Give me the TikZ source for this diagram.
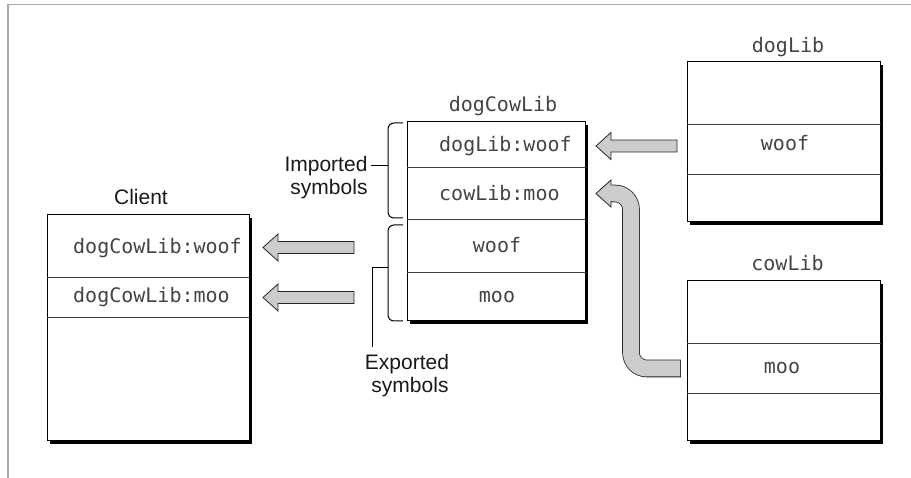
\documentclass[tikz,border=0pt]{standalone}
\usepackage{fontspec}
\setmainfont{Liberation Sans}
\newfontfamily\monof{DejaVu Sans Mono}
\usetikzlibrary{calc,shadows}
\definecolor{framegray}{HTML}{AAAAAA}
\definecolor{arrowfill}{HTML}{CCCCCC}
\definecolor{arrowline}{HTML}{262626}
\definecolor{txtgray}{HTML}{444444}
\newcommand\blockarrow[2]{\draw[fatarrow] (#1) -- ++(15,-13.5) -- ++(0,7.5) -- ($(#2)+(0,-6)$) -- ++(0,12) -- ($(#1)+(15,6)$) -- ++(0,7.5) -- cycle;}
\begin{document}
\begin{tikzpicture}[x=1pt,y=-1pt,
  libbox/.style={draw=black, line width=1pt, fill=white, inner sep=0pt,
    drop shadow={shadow xshift=3pt, shadow yshift=-3pt, opacity=1, fill=black}},
  rowline/.style={draw=black!75, line width=0.8pt},
  monotext/.style={font=\monof\fontsize{20}{24}\selectfont, text=txtgray, inner sep=0pt, anchor=base},
  sanstext/.style={font=\fontsize{21}{25}\selectfont, text=black!90, inner sep=0pt, anchor=base},
  fatarrow/.style={fill=arrowfill, draw=arrowline, line width=0.8pt, line join=miter},
  bracepath/.style={draw=black, line width=1pt, rounded corners=6pt},
  leader/.style={draw=black, line width=1pt}]
\useasboundingbox (0,0) rectangle (911,478);
% frame
\draw[framegray, line width=1.3pt] (8,478) -- (8,4.5) -- (911,4.5);

% boxes
\node[libbox, minimum width=202pt, minimum height=226pt] (client) at (148,328) {};
\node[libbox, minimum width=178pt, minimum height=199pt] (dogcow) at (496,221.5) {};
\node[libbox, minimum width=193pt, minimum height=160pt] (doglib) at (783.5,142) {};
\node[libbox, minimum width=193pt, minimum height=160pt] (cowlib) at (783.5,361) {};

% row lines
\foreach \y in {277,317} \draw[rowline] (client.west |- 0,\y) -- (client.east |- 0,\y);
\foreach \y in {167,219,272} \draw[rowline] (dogcow.west |- 0,\y) -- (dogcow.east |- 0,\y);
\foreach \y in {124,174} \draw[rowline] (doglib.west |- 0,\y) -- (doglib.east |- 0,\y);
\foreach \y in {343,393} \draw[rowline] (cowlib.west |- 0,\y) -- (cowlib.east |- 0,\y);

% labels
\node[sanstext] (clientlbl) at (141,205) {Client};
\node[monotext] (dogcowlbl) at (503,111.5) {dogCowLib};
\node[monotext] (doglbl) at (788,52.5) {dogLib};
\node[monotext] (cowlbl) at (787.5,270.5) {cowLib};

% row texts
\node[monotext, anchor=base west] (cw) at (73,253.5) {dogCowLib:woof};
\node[monotext, anchor=base west] (cm) at (73,302.5) {dogCowLib:moo};
\node[monotext, anchor=base west] (dcw) at (439,151.5) {dogLib:woof};
\node[monotext, anchor=base west] (dcm) at (439,200.5) {cowLib:moo};
\node[monotext] (dcwoof) at (497,252.5) {woof};
\node[monotext] (dcmoo) at (497,302.5) {moo};
\node[monotext] (dlwoof) at (785,150.5) {woof};
\node[monotext] (clmoo) at (782,373.5) {moo};

% imported / exported labels
\node[sanstext] (imp1) at (326,172) {Imported};
\node[sanstext] (imp2) at (329,195) {symbols};
\node[sanstext] (exp1) at (407,370) {Exported};
\node[sanstext] (exp2) at (410,393) {symbols};

% braces
\draw[bracepath] (403,123) -- (388,123) -- (388,218) -- (403,218);
\draw[bracepath] (403,225) -- (388,225) -- (388,321) -- (403,321);
\coordinate (impmid) at (388,166);
\coordinate (impstart) at ($(imp1.east)+(3,0)$);
\draw[leader] (impstart |- impmid) -- (impmid);
\coordinate (expmid) at (388,268);
\coordinate (expbend) at (372,268);
\coordinate (expend) at (372,347);
\draw[leader] (expmid) -- (expbend) -- (expend);

% straight block arrows
\coordinate (a1tip) at (263,247.5); \coordinate (a1tail) at (354,247.5);
\coordinate (a2tip) at (263,297.5); \coordinate (a2tail) at (354,297.5);
\coordinate (a3tip) at (596,146);   \coordinate (a3tail) at (677,146);
\blockarrow{a1tip}{a1tail}
\blockarrow{a2tip}{a2tail}
\blockarrow{a3tip}{a3tail}

% bent block arrow from cowLib:moo to dogCowLib cowLib:moo
\coordinate (ctail) at (680,368.5);
\coordinate (cc1) at (631,368.5);
\coordinate (cc2) at (631,193.5);
\coordinate (chead) at (611,193.5);
\coordinate (ctip) at (596,193.5);
\draw[arrowline, line width=17.6pt, rounded corners=16pt] ($(ctail)+(0.8,0)$) -- (cc1) -- (cc2) -- (chead);
\draw[arrowfill, line width=16pt, rounded corners=16pt] (ctail) -- (cc1) -- (cc2) -- (chead);
\fill[arrowfill] (ctip) -- ($(chead)+(0,-13.5)$) -- ($(chead)+(0,13.5)$) -- cycle;
\draw[arrowline, line width=0.8pt, line join=miter] ($(chead)+(0,-8)$) -- ($(chead)+(0,-13.5)$) -- (ctip) -- ($(chead)+(0,13.5)$) -- ($(chead)+(0,8)$);
\end{tikzpicture}
\end{document}
